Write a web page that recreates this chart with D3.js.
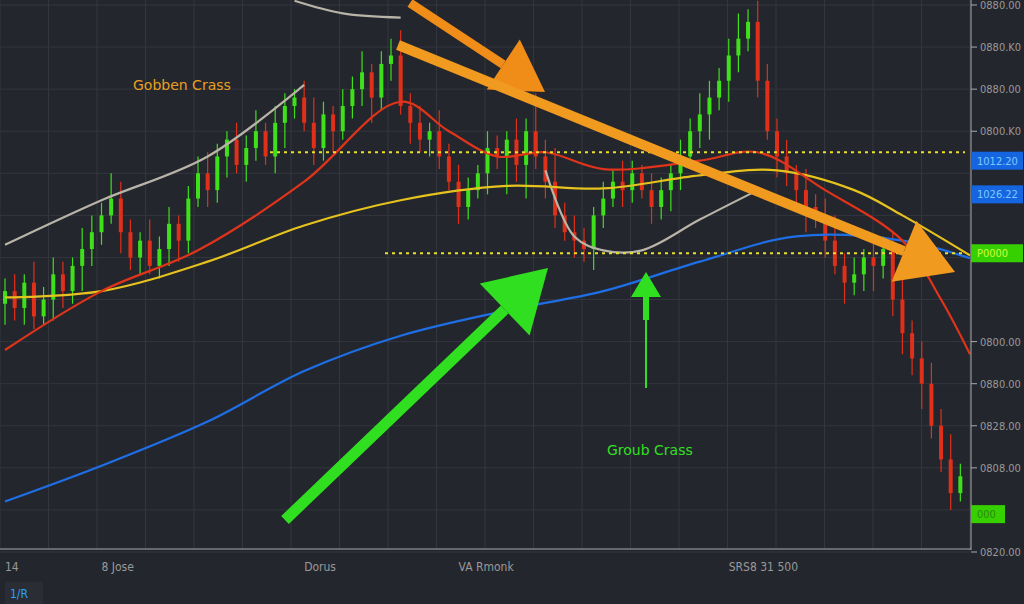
<!DOCTYPE html><html><head><meta charset="utf-8"><script src="https://cdn.jsdelivr.net/npm/d3@7"></script>
<style>body{margin:0;background:#24262d}svg{display:block}</style></head><body><svg id="c" width="1024" height="604"></svg>
<script>
const closes=[1012,1008,1014,1006,1010,1016,1012,1018,1022,1026,1030,1034,1026,1020,1024,1018,1022,1028,1024,1034,1040,1036,1044,1048,1042,1046,1050,1044,1052,1056,1058,1052,1046,1054,1050,1056,1060,1064,1058,1066,1068,1056,1052,1048,1050,1044,1038,1032,1036,1040,1046,1044,1048,1042,1050,1044,1038,1030,1026,1024,1022,1030,1034,1038,1036,1040,1036,1032,1036,1040,1044,1050,1054,1058,1062,1068,1072,1076,1062,1050,1044,1040,1036,1032,1030,1024,1018,1014,1016,1020,1018,1022,1010,1002,996,990,980,972,964,968];
const wicks=[3,4,2,5,3,4,3,2,5,4,3,6,4,3,2,5,3,4,2,3,4,5,3,2,4,3,5,2,4,3,2,4,6,3,2,4,3,5,2,3,4,6,3,4,2,5,3,4,3,2,4,3,2,5,3,9,4,8,3,4,3,2,4,3,5,3,2,4,3,2,4,3,5,4,3,4,6,3,5,4,3,4,2,5,3,4,6,3,4,2,5,3,4,6,3,4,5,4,6,3];
const red=[[0,998],[10,1012],[20,1021.7],[31,1038],[41,1057],[46,1050],[51,1044],[56,1045],[62,1041],[72,1043],[78,1045],[85,1036],[93,1024],[97,1010],[100,997]];
const yellow=[[0,1010.5],[10,1012],[21,1019],[31,1027.6],[41,1033.6],[52,1037],[62,1036.4],[72,1039.5],[80,1040.7],[88,1036],[93,1030],[100,1020.5]];
const blue=[[0,962],[10,970.5],[21,981],[31,993],[41,1001.4],[52,1007.4],[62,1012],[72,1019],[82,1025],[93,1024],[100,1019.8]];
const gray1=[[0,1023],[10,1033.6],[21,1044],[31,1061]];
const grayTop=[[30,1081],[35,1078],[41,1077]];
const gray2=[[56,1040.7],[59,1025],[62,1021.7],[66,1021.7],[72,1029],[78,1036]];
const yTicks=[1080,1070,1060,1050,1000,990,980,970,950];
const yTickLabels=["0880.00","0880.K0","0880.00","0800.K0","0800.00","0880.00","0828.00","0808.00","0820.00"];
const xLabels=[[0,"14"],[10,"8 Jose"],[31,"Dorus"],[47,"VA Rmonk"],[75,"SRS8 31 500"]];
const tags=[[1043,"#1565e0","#7fc8ff","1012.20"],[1035,"#1565e0","#7fc8ff","1026.22"],[1021,"#36d000","#c8ff40","P0000"],[959,"#36d000","#36d000","000"]];

const svg=d3.select("#c");
const x=d3.scaleLinear().domain([0,100]).range([5,970]);
const y=d3.scaleLinear().domain([950,1080]).range([552,5]);
const g=svg.append("g");
for(let i=0;i<=20;i++)g.append("line").attr("x1",i*48.5).attr("x2",i*48.5).attr("y1",0).attr("y2",548).attr("stroke","#33363e");
d3.range(950,1085,10).forEach(v=>g.append("line").attr("x1",0).attr("x2",970).attr("y1",y(v)).attr("y2",y(v)).attr("stroke","#33363e"));
closes.forEach((c,i)=>{const o=i?closes[i-1]:c-3;const up=c>=o;const col=up?"#3ee01a":"#e0301a";
 const hi=Math.max(o,c)+wicks[i],lo=Math.min(o,c)-wicks[(i+3)%100];
 g.append("line").attr("x1",x(i)).attr("x2",x(i)).attr("y1",y(hi)).attr("y2",y(lo)).attr("stroke",col).attr("stroke-width",1.2);
 g.append("rect").attr("x",x(i)-2).attr("width",4).attr("y",y(Math.max(o,c))).attr("height",Math.max(1,Math.abs(y(o)-y(c)))).attr("fill",col);});
const ln=d3.line().x(d=>x(d[0])).y(d=>y(d[1])).curve(d3.curveCatmullRom);
[[gray1,"#b8b4a8"],[grayTop,"#b8b4a8"],[gray2,"#b8b4a8"],[blue,"#1e6fe6"],[yellow,"#e6c21e"],[red,"#e0341a"]].forEach(([d,c])=>g.append("path").attr("d",ln(d)).attr("fill","none").attr("stroke",c).attr("stroke-width",2.2));
g.append("line").attr("x1",270).attr("x2",965).attr("y1",y(1045)).attr("y2",y(1045)).attr("stroke","#e8e02a").attr("stroke-width",2).attr("stroke-dasharray","3,4");
g.append("line").attr("x1",385).attr("x2",965).attr("y1",y(1021)).attr("y2",y(1021)).attr("stroke","#e8e02a").attr("stroke-width",2).attr("stroke-dasharray","3,4");
function arrow(x1,y1,x2,y2,col,w,hs){const a=Math.atan2(y2-y1,x2-x1);const bx=x2-hs*Math.cos(a),by=y2-hs*Math.sin(a);
 g.append("line").attr("x1",x1).attr("y1",y1).attr("x2",bx).attr("y2",by).attr("stroke",col).attr("stroke-width",w);
 const p=[[x2,y2],[bx+hs*0.6*Math.sin(a),by-hs*0.6*Math.cos(a)],[bx-hs*0.6*Math.sin(a),by+hs*0.6*Math.cos(a)]];
 g.append("path").attr("d","M"+p.join("L")+"Z").attr("fill",col);}
arrow(410,3,545,92,"#f08c18",9,50);
arrow(398,45,955,272,"#f09a20",10,55);
arrow(285,520,548,268,"#30e020",11,60);
g.append("line").attr("x1",646).attr("x2",646).attr("y1",320).attr("y2",388).attr("stroke","#30e020").attr("stroke-width",2);
arrow(646,320,646,272,"#30e020",6,25);
g.append("text").attr("x",133).attr("y",90).text("Gobben Crass").attr("fill","#e8a020").attr("font-family","DejaVu Sans").attr("font-size",14);
g.append("text").attr("x",607).attr("y",455).text("Groub Crass").attr("fill","#30e020").attr("font-family","DejaVu Sans").attr("font-size",14);
g.append("line").attr("x1",971).attr("x2",971).attr("y1",0).attr("y2",550).attr("stroke","#aaa");
g.append("line").attr("x1",0).attr("x2",971).attr("y1",549).attr("y2",549).attr("stroke","#aaa");
yTicks.forEach((v,i)=>{g.append("line").attr("x1",971).attr("x2",977).attr("y1",y(v)).attr("y2",y(v)).attr("stroke","#aaa");
 g.append("text").attr("x",980).attr("y",y(v)+4).text(yTickLabels[i]).attr("fill","#999").attr("font-family","DejaVu Sans Condensed").attr("font-size",11);});
tags.forEach(([v,bg,fc,t],i)=>{const w=i==3?34:52;g.append("rect").attr("x",971).attr("y",y(v)-9).attr("width",w).attr("height",18).attr("fill",bg);
 g.append("text").attr("x",977).attr("y",y(v)+4).text(t).attr("fill",i==3?"#2a8a10":fc).attr("font-family","DejaVu Sans Condensed").attr("font-size",11);});
xLabels.forEach(([i,t])=>g.append("text").attr("x",x(i)).attr("y",571).text(t).attr("fill","#999").attr("font-family","DejaVu Sans Condensed").attr("font-size",12));
g.append("rect").attr("x",5).attr("y",582).attr("width",38).attr("height",22).attr("fill","#2a2d35");
g.append("text").attr("x",10).attr("y",598).text("1/R").attr("fill","#2aa0ff").attr("font-family","DejaVu Sans Condensed").attr("font-size",12);
</script></body></html>
